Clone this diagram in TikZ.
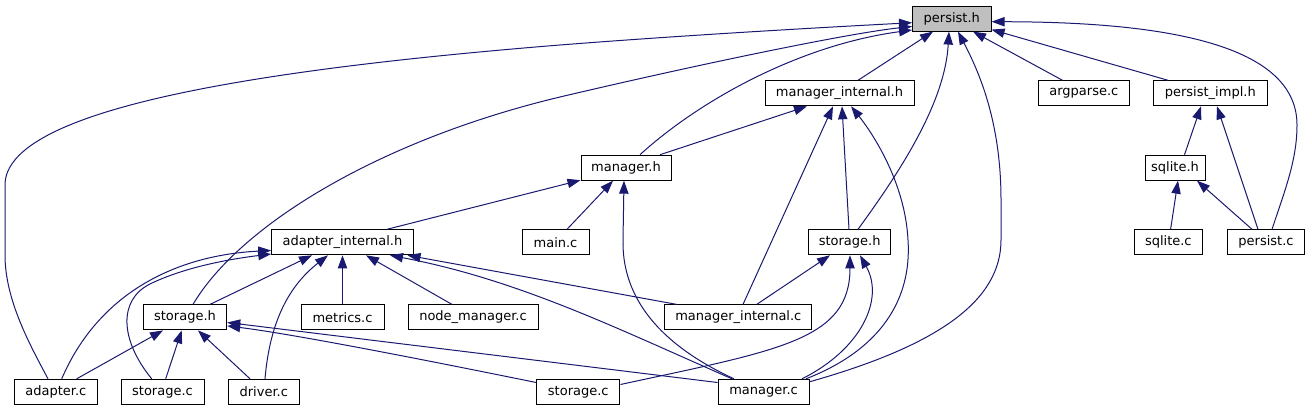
\documentclass[tikz,border=0pt]{standalone}
\usepackage{fontspec}
\newfontfamily\dejavu{DejaVu Sans}
\usetikzlibrary{arrows.meta}
\definecolor{edgeblue}{HTML}{191970}
\definecolor{rootgray}{HTML}{BFBFBF}
\tikzset{
  nbox/.style={draw=black, line width=1pt, fill=white, minimum height=25pt,
    inner sep=0pt, text=black, font={\dejavu\fontsize{13}{15}\selectfont}},
  rootbox/.style={nbox, fill=rootgray},
  dep/.style={draw=edgeblue, line width=1pt, -{Triangle[length=13pt,width=9.3pt]}},
}
\begin{document}
\begin{tikzpicture}[x=1pt, y=-1pt]
\useasboundingbox (0,0) rectangle (1312,411);
% row 0
\node[rootbox, minimum width=78.5pt] (ph) at (951.8,18.6) {persist.h};
% row 1
\node[nbox, minimum width=149pt] (mih) at (839.5,93.3) {manager\_internal.h};
\node[nbox, minimum width=91.5pt] (argp) at (1083.8,93.3) {argparse.c};
\node[nbox, minimum width=114.5pt] (pimpl) at (1210.3,93.3) {persist\_impl.h};
% row 2
\node[nbox, minimum width=90pt] (mh) at (626,167.7) {manager.h};
\node[nbox, minimum width=60pt] (sqh) at (1175,167.7) {sqlite.h};
% row 3
\node[nbox, minimum width=141.6pt] (aih) at (342.5,242.3) {adapter\_internal.h};
\node[nbox, minimum width=67pt] (mainc) at (555.5,242.3) {main.c};
\node[nbox, minimum width=82pt] (sthr) at (849.7,242.3) {storage.h};
\node[nbox, minimum width=68.6pt] (sqc) at (1168.3,242.3) {sqlite.c};
\node[nbox, minimum width=77pt] (pc) at (1266,242.3) {persist.c};
% row 4
\node[nbox, minimum width=83.4pt] (sthl) at (185,317.4) {storage.h};
\node[nbox, minimum width=83pt] (metc) at (342.5,317.4) {metrics.c};
\node[nbox, minimum width=130pt] (nmc) at (473,317.4) {node\_manager.c};
\node[nbox, minimum width=147.3pt] (mic) at (738.3,317.4) {manager\_internal.c};
% row 5
\node[nbox, minimum width=83pt] (adc) at (55.8,391.8) {adapter.c};
\node[nbox, minimum width=83pt] (stcl) at (162.5,391.8) {storage.c};
\node[nbox, minimum width=71pt] (drc) at (263.8,391.8) {driver.c};
\node[nbox, minimum width=83.3pt] (stcm) at (578.3,391.8) {storage.c};
\node[nbox, minimum width=91pt] (mc) at (763.5,391.8) {manager.c};

% --- edges into persist.h
\draw[dep] ([xshift=-7.8pt]adc.north) .. controls (30,345) and (5,300) .. (5,255) -- (5,185) .. controls (5,110) and (250,70) .. (560,45) .. controls (700,34) and (850,26) .. ([yshift=-4.1pt]ph.west);
\draw[dep] ([xshift=8pt]sthl.north) .. controls (240,225) and (380,140) .. (560,97) .. controls (700,64) and (850,33) .. ([yshift=-7.9pt]ph.west);
\draw[dep] ([xshift=14pt]mh.north) .. controls (700,100) and (800,45) .. ([yshift=-11.4pt]ph.west);
\draw[dep] ([xshift=18.5pt]mih.north) -- ([xshift=-18.8pt]ph.south);
\draw[dep] ([xshift=8.3pt]sthr.north) .. controls (905,165) and (945,100) .. ([xshift=-2.8pt]ph.south);
\draw[dep] ([yshift=-3pt]mc.north east) .. controls (940,345) and (1001,300) .. (1001,240) -- (1001,200) .. controls (1001,120) and (978,70) .. ([xshift=6.2pt]ph.south);
\draw[dep] ([xshift=-21.3pt]argp.north) -- ([xshift=21.2pt]ph.south);
\draw[dep] ([xshift=-42.3pt]pimpl.north) -- ([yshift=2pt]ph.south east);
\draw[dep] ([xshift=6pt]pc.north) .. controls (1285,190) and (1297,160) .. (1297,125) .. controls (1297,40) and (1150,22) .. ([yshift=-3.1pt]ph.east);

% --- edges into manager_internal.h
\draw[dep] ([xshift=34pt]mh.north) -- ([xshift=-32.5pt]mih.south);
\draw[dep] ([xshift=4.7pt]mic.north) -- ([xshift=-6.5pt]mih.south);
\draw[dep] ([xshift=-0.7pt]sthr.north) -- ([xshift=2.5pt]mih.south);
\draw[dep] ([xshift=42.5pt]mc.north) .. controls (880,350) and (912,300) .. (908,240) .. controls (905,180) and (870,130) .. ([xshift=11.5pt]mih.south);

% --- edges into persist_impl.h and sqlite.h
\draw[dep] ([xshift=9.5pt]sqh.north) -- ([xshift=-9.3pt]pimpl.south);
\draw[dep] ([xshift=-8pt]pc.north) -- ([xshift=6.7pt]pimpl.south);
\draw[dep] ([xshift=2.3pt]sqc.north) -- ([xshift=3pt]sqh.south);
\draw[dep] ([xshift=-14pt]pc.north) -- ([xshift=22pt]sqh.south);

% --- edges into manager.h
\draw[dep] ([xshift=44.5pt]aih.north) -- ([yshift=0.5pt]mh.south west);
\draw[dep] ([xshift=11.5pt]mainc.north) -- ([xshift=-13pt]mh.south);
\draw[dep] ([xshift=-29.5pt]mc.north) .. controls (650,340) and (622,290) .. (623,240) -- ([xshift=-2pt]mh.south);

% --- edges into adapter_internal.h
\draw[dep] ([xshift=5.9pt]adc.north) .. controls (100,290) and (180,255) .. ([yshift=-8.2pt]aih.west);
\draw[dep] ([xshift=-10.8pt]stcl.north) .. controls (120,340) and (118,300) .. (150,284) .. controls (185,267) and (230,259) .. ([yshift=1.3pt]aih.south west);
\draw[dep] ([xshift=25pt]sthl.north) -- ([xshift=-30.5pt]aih.south);
\draw[dep] ([xshift=1.2pt]drc.north) .. controls (270,320) and (290,285) .. ([xshift=-14.5pt]aih.south);
\draw[dep] (metc.north) -- (aih.south);
\draw[dep] ([xshift=-21pt]nmc.north) -- ([xshift=23.5pt]aih.south);
\draw[dep] ([xshift=-31.5pt]mc.north) .. controls (620,330) and (520,280) .. ([xshift=47.5pt]aih.south);
\draw[dep] ([xshift=-61.6pt]mic.north) -- ([xshift=-6.3pt]aih.south east);

% --- edges into storage.h (right)
\draw[dep] ([xshift=18.4pt]mic.north) -- ([xshift=-19.7pt]sthr.south);
\draw[dep] ([yshift=-5.7pt]stcm.north east) .. controls (780,350) and (850,340) .. ([xshift=0.3pt]sthr.south);
\draw[dep] ([xshift=38.5pt]mc.north) .. controls (860,350) and (885,300) .. ([xshift=10.3pt]sthr.south);

% --- edges into storage.h (left)
\draw[dep] ([xshift=20.9pt]adc.north) -- ([xshift=-22pt]sthl.south);
\draw[dep] ([xshift=3.2pt]stcl.north) -- ([xshift=-3.3pt]sthl.south);
\draw[dep] ([xshift=-13.8pt]drc.north) -- ([xshift=13pt]sthl.south);
\draw[dep] ([yshift=-3.7pt]stcm.north west) .. controls (450,365) and (300,335) .. ([yshift=-8.5pt]sthl.east);
\draw[dep] ([yshift=-3.7pt]mc.north west) -- ([yshift=-5.1pt]sthl.east);
\end{tikzpicture}
\end{document}
